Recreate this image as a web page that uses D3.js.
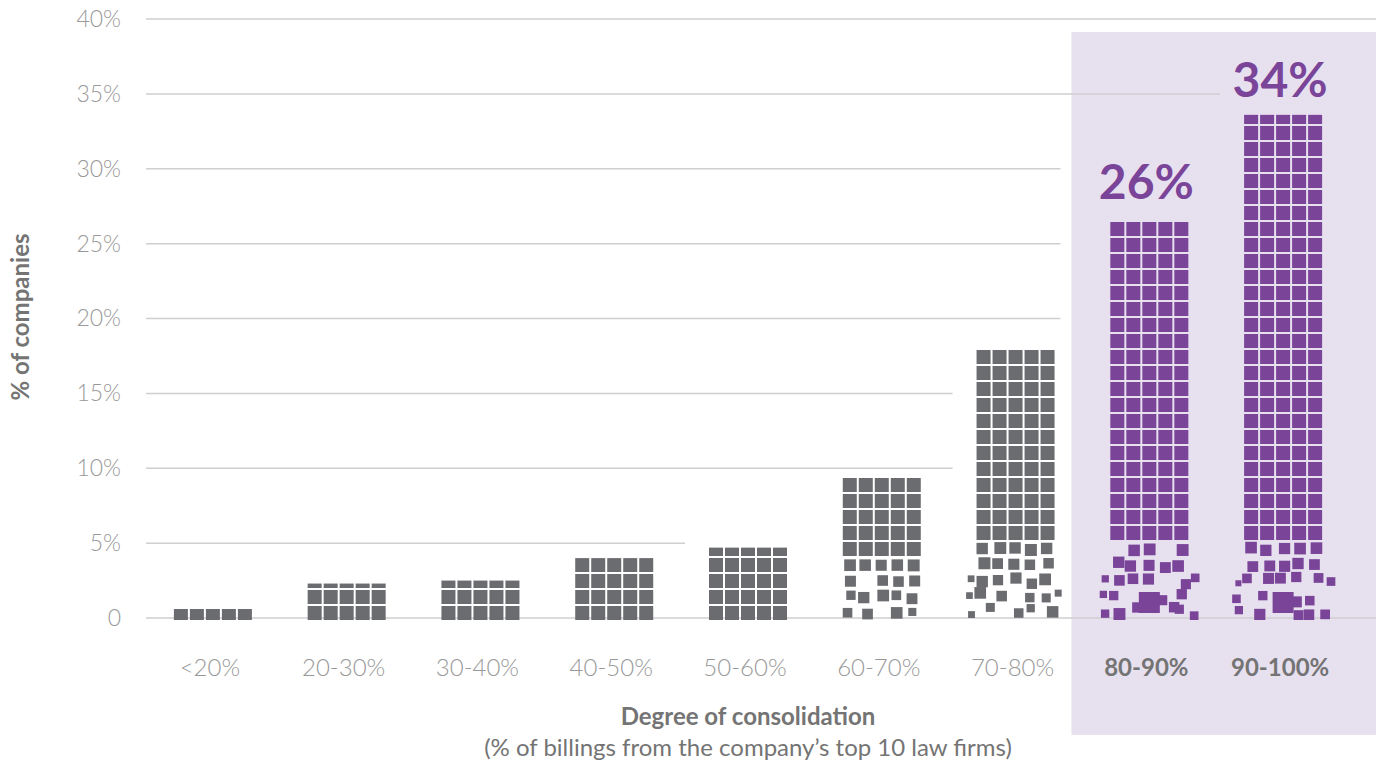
<!DOCTYPE html>
<html>
<head>
<meta charset="utf-8">
<script src="https://cdn.jsdelivr.net/npm/d3@7"></script>
<style>
  body { margin: 0; background: #fff; }
  text { font-family: Lato, "Open Sans", sans-serif; }
</style>
</head>
<body>
<div id="chart"></div>
<script>
// chart data
var categories = ["<20%", "20-30%", "30-40%", "40-50%", "50-60%", "60-70%", "70-80%", "80-90%", "90-100%"];
var values = [0.6, 2.3, 2.5, 4.0, 4.7, 9.5, 18.1, 26.8, 33.6];
var valueLabels = ["", "", "", "", "", "", "", "26%", "34%"];
var highlighted = [false, false, false, false, false, false, false, true, true];
var yTicks = [0, 5, 10, 15, 20, 25, 30, 35, 40];

// how much the bottom of each bar "crumbles" (purely decorative)
var crumbleRows = [0, 0, 0, 0, 0, 4, 5, 5, 5];
var crumbleAmp = [0, 0, 0, 0, 0, 3, 7, 9, 9];
var crumbleDrop = [0, 0, 0, 0, 0, 0.05, 0.15, 0.1, 0.1];

var svgWidth = 1379;
var svgHeight = 765;

var grey = "#6b6c70";
var purple = "#7a4499";
var shade = "#e7e0ef";
var gridColor = "#cfcfcf";

var svg = d3.select("#chart")
    .append("svg")
    .attr("width", svgWidth)
    .attr("height", svgHeight);

var x = d3.scaleBand()
    .domain(categories)
    .range([143, 1347])
    .padding(0);

var y = d3.scaleLinear()
    .domain([0, 40])
    .range([618, 19]);

var cell = 14, pitch = 16, cols = 5;
var barW = cols * pitch - 2;
var base = y(0) + 2;
var barShift = 3;
var minSliver = 4;

function barLeft(i) {
    return x(categories[i]) + x.bandwidth() / 2 - barW / 2 + barShift;
}

// deterministic hash for the crumble decoration
function hash(a, b, c, d) {
    var s = Math.sin(a * 127.1 + b * 311.7 + c * 74.7 + d * 269.5) * 43758.5453;
    return s - Math.floor(s);
}

// highlight band behind the last two categories
var firstHi = highlighted.indexOf(true);
var shadeLeft = x(categories[firstHi]) - 8;
svg.append("rect")
    .attr("x", shadeLeft)
    .attr("y", 32)
    .attr("width", 1376 - shadeLeft)
    .attr("height", 735 - 32)
    .attr("fill", shade);

// gridlines stop before the first bar (or label) that reaches them
var labelRoom = 4;
yTicks.forEach(function(t) {
    var x2 = 1376;
    for (var i = 0; i < values.length; i++) {
        var top = values[i] + (valueLabels[i] ? labelRoom : 0);
        if (t > 0 && top > t - 0.5) {
            x2 = (i === firstHi) ? shadeLeft - 11 : barLeft(i) - 24;
            break;
        }
    }
    svg.append("line")
        .attr("x1", 146)
        .attr("x2", x2)
        .attr("y1", y(t))
        .attr("y2", y(t))
        .attr("stroke", gridColor)
        .attr("stroke-width", 1.5);
});

// y axis labels
var leftAxis = d3.axisLeft(y)
    .tickValues(yTicks)
    .tickSize(0)
    .tickPadding(0)
    .tickFormat(function(d) { return d === 0 ? "0" : d + "%"; });

var yAxisG = svg.append("g")
    .attr("transform", "translate(121,0)")
    .call(leftAxis);
yAxisG.select(".domain").remove();
yAxisG.selectAll("text")
    .attr("font-family", "Lato")
    .attr("font-weight", 300)
    .attr("font-size", 23)
    .attr("fill", "#999999");

// x axis labels
var bottomAxis = d3.axisBottom(x).tickSize(0).tickPadding(3);
var xAxisG = svg.append("g")
    .attr("transform", "translate(0,656)")
    .call(bottomAxis);
xAxisG.select(".domain").remove();
xAxisG.selectAll("text")
    .attr("font-family", "Lato")
    .attr("font-size", 24)
    .attr("font-weight", function(d, i) { return highlighted[i] ? 700 : 300; })
    .attr("fill", function(d, i) { return highlighted[i] ? "#747474" : "#999999"; });

// bars made of little squares
var cellsG = svg.append("g");
values.forEach(function(v, i) {
    var left = barLeft(i);
    var top = y(v);
    var color = highlighted[i] ? purple : grey;
    var nD = crumbleRows[i];
    var big = highlighted[i];
    var nRows = Math.ceil((base - top) / pitch);
    var rects = [];

    for (var r = 0; r < nRows; r++) {
        var slotBottom = base - r * pitch;
        var slotTop = slotBottom - cell;
        if (top >= slotBottom) continue;
        // skip very thin partial rows at the top
        if (r > 0 && slotBottom - Math.max(slotTop, top) < minSliver) continue;
        for (var c = 0; c < cols; c++) {
            if (r < nD) {
                if (big && c === 2 && r < 2) continue;
                var s = 1 - r / nD;
                var size = 12 - s * 4 * hash(i, r, c, 1);
                if (hash(i, r, c, 4) < s * crumbleDrop[i]) continue;
                var A = crumbleAmp[i] * s;
                var cx = left + c * pitch + cell / 2 + (hash(i, r, c, 2) - 0.5) * 2 * A;
                var cy = slotBottom - cell / 2 + (hash(i, r, c, 3) - 0.5) * 1.6 * A;
                cy = Math.min(cy, base - size / 2);
                rects.push({x: cx - size / 2, y: cy - size / 2, w: size, h: size});
            } else {
                var yy = Math.max(slotTop, top);
                rects.push({x: left + c * pitch, y: yy, w: cell, h: slotBottom - yy});
            }
        }
        // loose squares spilling out to the sides
        if (nD >= 5 && r < 3) {
            [-1, 5].forEach(function(c) {
                if (hash(i, r, c, 5) < 0.4) return;
                var size = 6 + 4 * hash(i, r, c, 6);
                var cx = left + c * pitch + cell / 2 + (c < 0 ? 6 : -6) * hash(i, r, c, 7);
                var cy = slotBottom - cell / 2 + (hash(i, r, c, 8) - 0.5) * 8;
                cy = Math.min(cy, base - size / 2);
                rects.push({x: cx - size / 2, y: cy - size / 2, w: size, h: size});
            });
        }
    }
    if (big) {
        var bx = left + barW / 2;
        rects.push({x: bx - 10.5, y: base - 28, w: 21, h: 21});
    }

    cellsG.selectAll(null)
        .data(rects)
        .enter()
        .append("rect")
        .attr("x", function(d) { return d.x; })
        .attr("y", function(d) { return d.y; })
        .attr("width", function(d) { return d.w; })
        .attr("height", function(d) { return d.h; })
        .attr("fill", color);
});

// value labels above highlighted bars
svg.selectAll(".valueLabel")
    .data(categories)
    .enter()
    .append("text")
    .attr("class", "valueLabel")
    .attr("x", function(d) { return x(d) + x.bandwidth() / 2; })
    .attr("y", function(d, i) { return y(values[i]) - 18; })
    .attr("text-anchor", "middle")
    .attr("font-size", 48)
    .attr("font-weight", 700)
    .attr("fill", purple)
    .text(function(d, i) { return valueLabels[i]; });

// axis titles
svg.append("text")
    .attr("transform", "translate(29,317) rotate(-90)")
    .attr("text-anchor", "middle")
    .attr("font-size", 24)
    .attr("font-weight", 700)
    .attr("fill", "#747474")
    .text("% of companies");

svg.append("text")
    .attr("x", 748)
    .attr("y", 725)
    .attr("text-anchor", "middle")
    .attr("font-size", 24)
    .attr("font-weight", 700)
    .attr("fill", "#747474")
    .text("Degree of consolidation");

svg.append("text")
    .attr("x", 748)
    .attr("y", 756)
    .attr("text-anchor", "middle")
    .attr("font-size", 24)
    .attr("fill", "#747474")
    .text("(% of billings from the company\u2019s top 10 law firms)");
</script>
</body>
</html>
